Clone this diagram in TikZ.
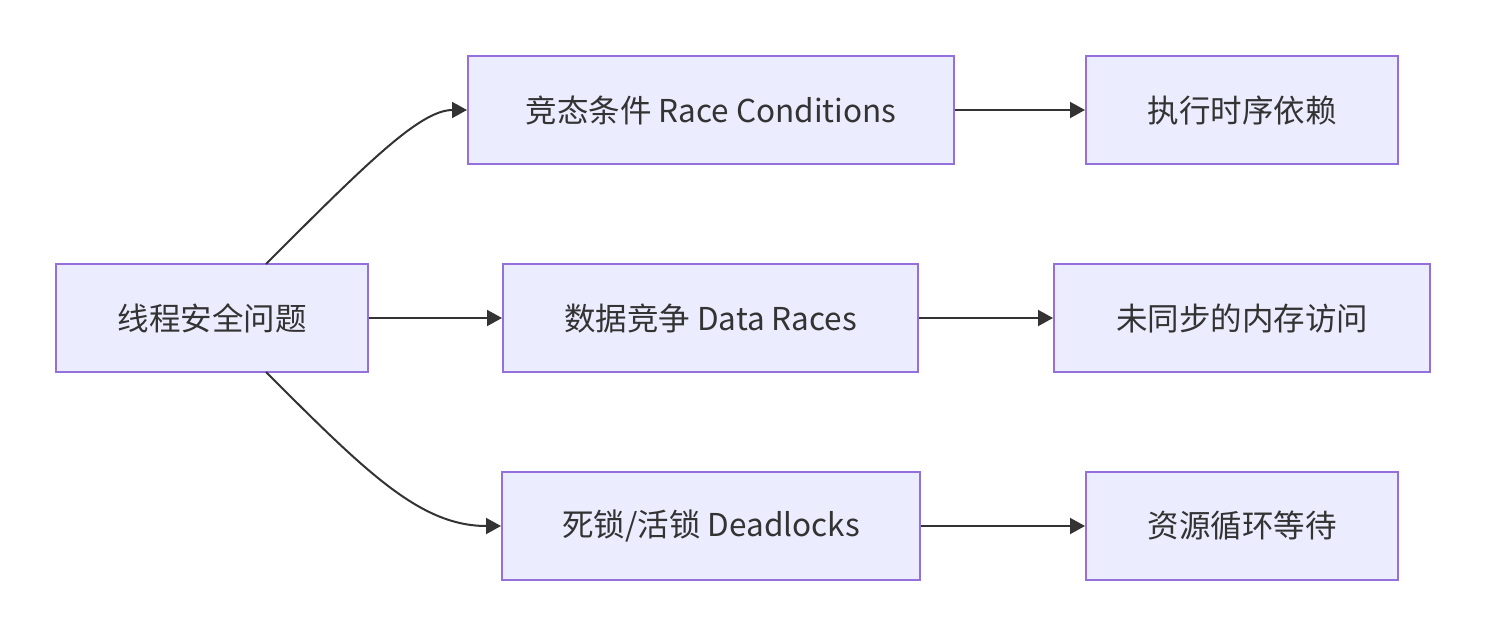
\documentclass[tikz,border=0pt]{standalone}
\usepackage{fontspec}
\setmainfont{Noto Sans CJK SC}
\usetikzlibrary{arrows.meta}
\definecolor{nodefill}{HTML}{ECECFF}
\definecolor{nodeedge}{HTML}{9370DB}
\definecolor{ink}{HTML}{333333}
\tikzset{
  box/.style={draw=nodeedge, fill=nodefill, line width=2pt, inner sep=0pt, minimum height=108pt, text=ink, font=\fontsize{31.5}{36}\selectfont},
  link/.style={draw=ink, line width=2pt, -{Triangle[length=15pt,width=16pt]}}
}
\begin{document}
\begin{tikzpicture}[x=1pt,y=-1pt]
\useasboundingbox (0,0) rectangle (1486,635);
\node[box, minimum width=312pt] (A) at (212,318) {线程安全问题};
\node[box, minimum width=486pt] (B1) at (711,110) {竞态条件 Race Conditions};
\node[box, minimum width=415pt] (B2) at (710.5,318) {数据竞争 Data Races};
\node[box, minimum width=418pt] (B3) at (711,526) {死锁/活锁 Deadlocks};
\node[box, minimum width=312pt] (C1) at (1242,110) {执行时序依赖};
\node[box, minimum width=376pt] (C2) at (1242,318) {未同步的内存访问};
\node[box, minimum width=312pt] (C3) at (1242,526) {资源循环等待};
\coordinate (At) at (266,264);
\coordinate (Ab) at (266,372);
\draw[link] (At) .. controls (366,164) and (420,110) .. (B1.west);
\draw[link] (A.east) -- (B2.west);
\draw[link] (Ab) .. controls (366,472) and (420,526) .. (B3.west);
\draw[link] (B1.east) -- (C1.west);
\draw[link] (B2.east) -- (C2.west);
\draw[link] (B3.east) -- (C3.west);
\end{tikzpicture}
\end{document}
